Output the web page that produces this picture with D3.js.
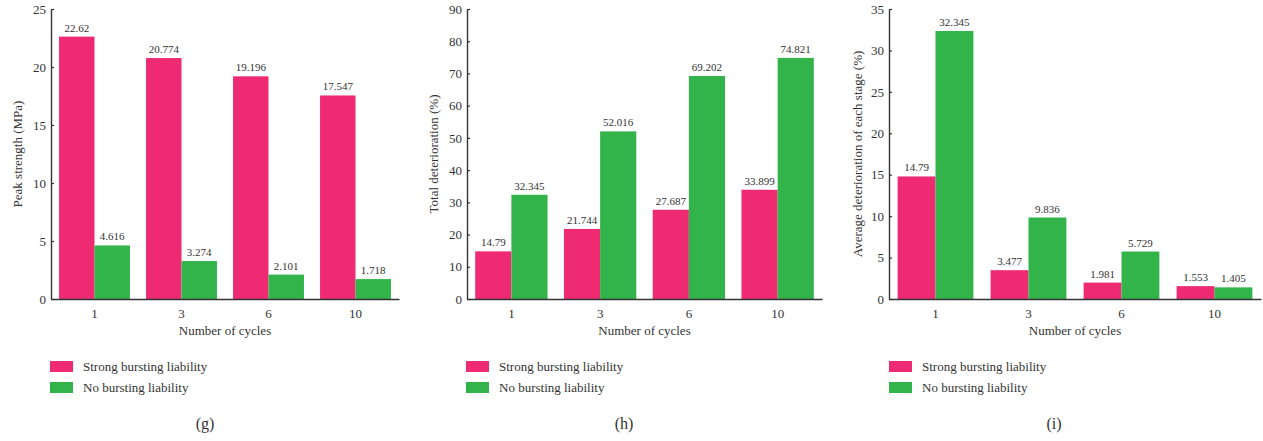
<!DOCTYPE html>
<html>
<head>
<meta charset="utf-8">
<script src="https://cdn.jsdelivr.net/npm/d3@7"></script>
<style>
  html, body { margin: 0; padding: 0; background: #fff; }
  svg { display: block; }
</style>
</head>
<body>
<svg id="chart" width="1263" height="441"></svg>
<script>
// Shared categories and series
const cycles = ["1", "3", "6", "10"];
const seriesNames = ["Strong bursting liability", "No bursting liability"];
const seriesColors = ["#EE2A73", "#33B44B"];

// (g) Peak strength (MPa)
const peakStrong = [22.62, 20.774, 19.196, 17.547];
const peakNone = [4.616, 3.274, 2.101, 1.718];
const peakTicks = [0, 5, 10, 15, 20, 25];

// (h) Total deterioration (%)
const totalStrong = [14.79, 21.744, 27.687, 33.899];
const totalNone = [32.345, 52.016, 69.202, 74.821];
const totalTicks = [0, 10, 20, 30, 40, 50, 60, 70, 80, 90];

// (i) Average deterioration of each stage (%)
const avgStrong = [14.79, 3.477, 1.981, 1.553];
const avgNone = [32.345, 9.836, 5.729, 1.405];
const avgTicks = [0, 5, 10, 15, 20, 25, 30, 35];

const FONT = '"Liberation Serif", "Times New Roman", "DejaVu Serif", serif';
const INK = "#333";

const panels = [
  { x0: 51, x1: 399, yMax: 25, ticks: peakTicks, series: [peakStrong, peakNone],
    yTitle: "Peak strength (MPa)", yTitleX: 17, legendX: 50, tag: "(g)", tagX: 205 },
  { x0: 467, x1: 822, yMax: 90, ticks: totalTicks, series: [totalStrong, totalNone],
    yTitle: "Total deterioration (%)", yTitleX: 433, legendX: 466, tag: "(h)", tagX: 624 },
  { x0: 889, x1: 1261, yMax: 35, ticks: avgTicks, series: [avgStrong, avgNone],
    yTitle: "Average deterioration of each stage (%)", yTitleX: 857, legendX: 889, tag: "(i)", tagX: 1054 }
];

const svg = d3.select("#chart").attr("font-family", FONT);
const yTop = 9, yBottom = 299;

function label(sel, size) {
  return sel.style("font-family", FONT).style("font-size", size + "px").style("fill", INK);
}

panels.forEach(p => {
  const g = svg.append("g");

  const x = d3.scaleBand().domain(cycles).range([p.x0, p.x1])
    .paddingInner(0.185).paddingOuter(0.0925);
  const xs = d3.scaleBand().domain(d3.range(seriesNames.length))
    .range([0, x.bandwidth()]);
  const y = d3.scaleLinear().domain([0, p.yMax]).range([yBottom, yTop]);

  // bars with value labels
  p.series.forEach((vals, si) => {
    g.append("g").selectAll("rect").data(vals).join("rect")
      .attr("x", (d, i) => x(cycles[i]) + xs(si))
      .attr("y", d => y(d))
      .attr("width", xs.bandwidth())
      .attr("height", d => y(0) - y(d))
      .attr("fill", seriesColors[si]);

    g.append("g").selectAll("text").data(vals).join("text")
      .attr("x", (d, i) => x(cycles[i]) + xs(si) + xs.bandwidth() / 2)
      .attr("y", d => y(d) - 5)
      .attr("text-anchor", "middle")
      .call(label, 11)
      .text(d => d);
  });

  // y axis with inward ticks
  const yAxis = g.append("g").attr("transform", `translate(${p.x0},0)`)
    .call(d3.axisRight(y).tickValues(p.ticks).tickSize(3).tickSizeOuter(0).tickFormat(d3.format("d")));
  yAxis.select(".domain").attr("stroke", INK).attr("stroke-width", 1.4);
  yAxis.selectAll(".tick line").attr("stroke", INK).attr("stroke-width", 1.2);
  yAxis.selectAll(".tick text")
    .attr("x", -5).attr("text-anchor", "end")
    .call(label, 13);

  // x axis
  const xAxis = g.append("g").attr("transform", `translate(0,${yBottom})`)
    .call(d3.axisBottom(x).tickSize(0).tickSizeOuter(0));
  xAxis.select(".domain").attr("stroke", INK).attr("stroke-width", 1.4);
  xAxis.selectAll(".tick text").attr("dy", 0).attr("y", 19)
    .call(label, 13);

  // axis titles
  g.append("text")
    .attr("x", (p.x0 + p.x1) / 2).attr("y", 335)
    .attr("text-anchor", "middle").call(label, 13)
    .text("Number of cycles");
  g.append("text")
    .attr("transform", `translate(${p.yTitleX},${(yTop + yBottom) / 2}) rotate(-90)`)
    .attr("text-anchor", "middle").attr("dy", "0.35em").call(label, 13)
    .text(p.yTitle);

  // legend
  seriesNames.forEach((name, si) => {
    const ly = 361 + si * 21;
    g.append("rect").attr("x", p.legendX).attr("y", ly)
      .attr("width", 23).attr("height", 11).attr("fill", seriesColors[si]);
    g.append("text").attr("x", p.legendX + 33).attr("y", ly + 9.5)
      .call(label, 13).text(name);
  });

  // panel tag
  g.append("text").attr("x", p.tagX).attr("y", 429)
    .attr("text-anchor", "middle").call(label, 16).text(p.tag);
});
</script>
</body>
</html>
